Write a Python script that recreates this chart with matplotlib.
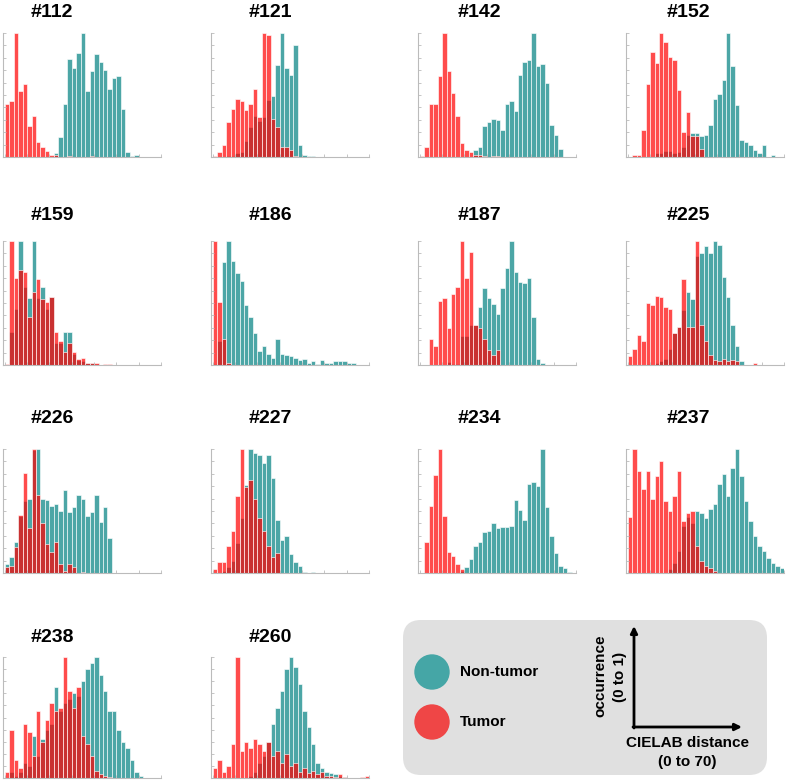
import numpy as np
import matplotlib
matplotlib.use('Agg')
import matplotlib.pyplot as plt
from matplotlib.patches import FancyBboxPatch, Circle

plt.rcParams['font.family'] = ['Liberation Sans', 'DejaVu Sans']

# histogram bins: CIELAB distance 0..70, width 2 -> 35 bins, normalised to max = 1
bin_edges = np.arange(0, 72, 2)

panel_ids = ['#112', '#121', '#142', '#152', '#159', '#186', '#187', '#225',
             '#226', '#227', '#234', '#237', '#238', '#260']

teal_112 = [0, 0, 0, 0, 0, 0, 0, 0, 0, 0, 0, 0.035, 0.16, 0.43, 0.79, 0.72, 0.84, 1.0, 0.53, 0.69,
            0.83, 0.77, 0.70, 0.55, 0.64, 0.65, 0.39, 0.04, 0.01, 0.02, 0, 0, 0, 0, 0]
red_112 = [0.43, 0.45, 1.0, 0.53, 0.59, 0.25, 0.33, 0.12, 0.08, 0.05, 0.02, 0.015, 0, 0, 0.005, 0, 0, 0,
           0, 0.005, 0, 0, 0, 0, 0, 0, 0, 0, 0, 0, 0, 0, 0, 0, 0]

teal_121 = [0, 0, 0, 0.01, 0.01, 0.035, 0.04, 0.13, 0.24, 0.33, 0.29, 0.32, 0.46, 0.49, 0.74, 1.0, 0.72,
            0.66, 0.90, 0.10, 0.015, 0.01, 0.005, 0, 0, 0, 0, 0, 0, 0, 0, 0, 0, 0, 0]
red_121 = [0.01, 0.04, 0.10, 0.28, 0.39, 0.47, 0.45, 0.38, 0.43, 0.55, 0.32, 1.0, 0.98, 0.31, 0.24, 0.08,
           0.08, 0.06, 0.01, 0, 0, 0, 0, 0, 0, 0, 0, 0, 0, 0, 0, 0, 0, 0, 0]

teal_142 = [0, 0, 0, 0, 0, 0, 0, 0, 0, 0, 0, 0, 0.06, 0.08, 0.25, 0.28, 0.31, 0.30, 0.22, 0.43, 0.45,
            0.37, 0.66, 0.77, 0.78, 1.0, 0.73, 0.75, 0.60, 0.26, 0.18, 0.065, 0.003, 0, 0]
red_142 = [0.005, 0.08, 0.43, 0.43, 0.65, 1.0, 0.69, 0.52, 0.33, 0.11, 0.06, 0.04, 0.015, 0.02, 0.01, 0,
           0.005, 0.005, 0, 0, 0, 0, 0, 0, 0, 0, 0, 0, 0, 0, 0, 0, 0, 0, 0]

teal_152 = [0, 0, 0, 0, 0, 0.003, 0.03, 0.035, 0.045, 0.045, 0.035, 0.04, 0.08, 0.18, 0.19, 0.19, 0.17,
            0.18, 0.26, 0.47, 0.51, 0.62, 1.0, 0.73, 0.42, 0.14, 0.12, 0.10, 0.06, 0.03, 0.10, 0, 0.013,
            0.003, 0]
red_152 = [0, 0.02, 0.02, 0.22, 0.59, 0.85, 0.76, 1.0, 0.93, 0.81, 0.78, 0.54, 0.20, 0.36, 0.17, 0.17,
           0.065, 0, 0, 0, 0, 0, 0, 0, 0, 0, 0, 0, 0, 0, 0, 0, 0, 0, 0]

teal_159 = [0, 0.27, 0.45, 1.0, 0.63, 0.54, 1.0, 0.54, 0.63, 0.45, 0.545, 0.18, 0.18, 0.27, 0.27, 0.09,
            0.04, 0.03, 0.02, 0.015, 0.008, 0, 0, 0, 0, 0, 0, 0, 0, 0, 0, 0, 0, 0, 0]
red_159 = [0.005, 1.0, 0.70, 0.77, 0.75, 0.39, 0.59, 0.69, 0.53, 0.51, 0.55, 0.27, 0.19, 0.105, 0.18,
           0.105, 0.05, 0.06, 0.02, 0.02, 0.015, 0.003, 0.005, 0.01, 0, 0, 0, 0, 0, 0, 0, 0, 0, 0, 0]

teal_186 = [0.005, 0.19, 0.83, 1.0, 0.84, 0.74, 0.68, 0.48, 0.39, 0.26, 0.11, 0.15, 0.09, 0.06, 0.21,
            0.09, 0.08, 0.07, 0.06, 0.04, 0.045, 0.02, 0.035, 0.01, 0.04, 0.02, 0.02, 0.03, 0.03, 0.03,
            0.013, 0.016, 0.003, 0, 0]
red_186 = [1.0, 0.51, 0.21, 0.02, 0, 0, 0, 0, 0, 0, 0, 0, 0, 0, 0, 0, 0, 0, 0, 0, 0, 0, 0, 0, 0, 0, 0,
           0, 0, 0, 0, 0, 0, 0, 0]

teal_187 = [0, 0, 0, 0, 0, 0, 0.025, 0.01, 0.01, 0.23, 0.23, 0.32, 0.32, 0.47, 0.62, 0.54, 0.49, 0.41,
            0.62, 0.78, 1.0, 0.75, 0.67, 0.66, 0.70, 0.39, 0.05, 0.015, 0, 0, 0, 0, 0, 0, 0]
red_187 = [0, 0, 0.21, 0.15, 0.52, 0.54, 0.30, 0.57, 0.63, 1.0, 0.70, 0.91, 0.32, 0.30, 0.21, 0.12, 0.08,
           0.12, 0, 0, 0, 0, 0, 0, 0, 0, 0, 0, 0, 0, 0, 0, 0, 0, 0]

teal_225 = [0, 0, 0, 0, 0.01, 0, 0.02, 0.03, 0.05, 0.13, 0.26, 0.31, 0.44, 0.59, 0.53, 0.88, 0.90, 0.96,
            0.90, 1.0, 0.97, 0.71, 0.55, 0.32, 0.15, 0.03, 0, 0, 0, 0, 0, 0, 0, 0, 0]
red_225 = [0.07, 0.13, 0.24, 0.19, 0.50, 0.48, 0.56, 0.55, 0.47, 0.45, 0.26, 0.31, 0.69, 0.31, 0.31, 1.0,
           0.32, 0.19, 0.08, 0.04, 0.03, 0.045, 0.03, 0.04, 0.03, 0, 0, 0, 0.015, 0, 0, 0, 0, 0, 0]

teal_226 = [0.075, 0.13, 0.25, 0.46, 0.58, 0.60, 0.99, 1.0, 0.60, 0.59, 0.54, 0.56, 0.50, 0.67, 0.49,
            0.53, 0.63, 0.60, 0.46, 0.49, 0.63, 0.41, 0.53, 0.28, 0, 0, 0, 0, 0, 0, 0, 0, 0, 0, 0]
red_226 = [0.045, 0.06, 0.21, 0.47, 0.81, 0.36, 1.0, 0.63, 0.40, 0.23, 0.17, 0.25, 0.07, 0.02, 0.07,
           0.045, 0, 0.01, 0, 0, 0, 0, 0, 0, 0, 0, 0, 0, 0, 0, 0, 0, 0, 0, 0]

teal_227 = [0, 0, 0.02, 0.05, 0.10, 0.24, 0.44, 0.71, 1.0, 0.97, 0.95, 0.89, 0.95, 0.77, 0.43, 0.27,
            0.30, 0.15, 0.09, 0.06, 0.01, 0, 0.008, 0, 0, 0, 0, 0, 0, 0, 0, 0, 0, 0, 0]
red_227 = [0.03, 0.09, 0.09, 0.22, 0.34, 0.62, 1.0, 0.69, 0.75, 0.60, 0.44, 0.34, 0.22, 0.13, 0.16, 0,
           0, 0, 0, 0, 0, 0, 0, 0, 0, 0, 0, 0, 0, 0, 0, 0, 0, 0, 0]

teal_234 = [0, 0, 0, 0, 0, 0, 0, 0, 0, 0.02, 0.045, 0.11, 0.22, 0.25, 0.33, 0.34, 0.40, 0.36, 0.37, 0.37,
            0.38, 0.59, 0.51, 0.43, 0.72, 0.73, 0.70, 1.0, 0.53, 0.30, 0.16, 0.055, 0.04, 0.005, 0]
red_234 = [0, 0.25, 0.54, 0.79, 1.0, 0.46, 0.17, 0.14, 0.07, 0.03, 0, 0, 0, 0, 0, 0, 0, 0, 0, 0, 0, 0,
           0, 0, 0, 0, 0, 0, 0, 0, 0, 0, 0, 0, 0]

teal_237 = [0, 0, 0, 0, 0, 0, 0, 0, 0, 0.03, 0.08, 0.18, 0.38, 0.45, 0.40, 0.50, 0.48, 0.44, 0.52, 0.56,
            0.72, 0.80, 0.62, 0.85, 1.0, 0.78, 0.58, 0.42, 0.30, 0.22, 0.18, 0.12, 0.08, 0.06, 0.04]
red_237 = [0.45, 1.0, 0.82, 0.68, 0.82, 0.60, 0.78, 0.90, 0.58, 0.50, 0.62, 0.82, 0.42, 0.48, 0.50, 0.22,
           0.10, 0.06, 0.04, 0.02, 0, 0, 0, 0, 0, 0, 0, 0, 0, 0, 0, 0, 0, 0, 0]

teal_238 = [0, 0.05, 0.02, 0.05, 0.12, 0.10, 0.35, 0.18, 0.32, 0.40, 0.45, 0.75, 0.55, 0.62, 0.65, 0.70,
            0.68, 0.80, 0.90, 0.95, 1.0, 0.85, 0.72, 0.55, 0.55, 0.40, 0.30, 0.25, 0.15, 0.05, 0.02, 0,
            0, 0, 0]
red_238 = [0.05, 0.40, 0.15, 0.08, 0.45, 0.38, 0.18, 0.55, 0.30, 0.48, 0.62, 0.55, 0.58, 1.0, 0.72, 0.58,
           0.75, 0.35, 0.28, 0.18, 0.06, 0.03, 0.02, 0.01, 0, 0, 0, 0, 0, 0, 0, 0, 0, 0, 0]

teal_260 = [0, 0, 0, 0, 0, 0, 0, 0, 0.02, 0.05, 0.12, 0.18, 0.30, 0.45, 0.58, 0.72, 0.90, 1.0, 0.92, 0.78,
            0.55, 0.42, 0.28, 0.12, 0.08, 0.05, 0.04, 0.03, 0.02, 0.01, 0, 0, 0, 0, 0]
red_260 = [0.08, 0.15, 0.05, 0.10, 0.28, 1.0, 0.22, 0.30, 0.25, 0.32, 0.28, 0.22, 0.30, 0.18, 0.22, 0.12,
           0.20, 0.10, 0.12, 0.05, 0.08, 0.04, 0.06, 0.03, 0.05, 0.02, 0.02, 0.01, 0.03, 0.01, 0, 0, 0,
           0.01, 0.02]

teal_all = [teal_112, teal_121, teal_142, teal_152, teal_159, teal_186, teal_187, teal_225,
            teal_226, teal_227, teal_234, teal_237, teal_238, teal_260]
red_all = [red_112, red_121, red_142, red_152, red_159, red_186, red_187, red_225,
           red_226, red_227, red_234, red_237, red_238, red_260]

W, H = 787, 784
fig = plt.figure(figsize=(W / 100, H / 100), dpi=100)

col_left = [3, 211, 418, 626]
ax_w = 158
row_top = [33, 241, 449, 657]
row_base = [157, 365, 573, 778]
title_x = [52, 270, 479, 688]
title_y = [12, 215, 418, 637]

centers = bin_edges[:-1] + 1
spine_col = '#bbbbbb'

for i, name in enumerate(panel_ids):
    r, c = divmod(i, 4)
    ax = fig.add_axes([col_left[c] / W, 1 - row_base[r] / H, ax_w / W, (row_base[r] - row_top[r]) / H])
    ax.bar(centers, teal_all[i], width=2, color='teal', alpha=0.7, edgecolor='white', linewidth=0.6)
    ax.bar(centers, red_all[i], width=2, color='red', alpha=0.7, edgecolor='white', linewidth=0.6)
    ax.set_xlim(-0.8, 70)
    ax.set_ylim(0, 1)
    ax.spines['top'].set_visible(False)
    ax.spines['right'].set_visible(False)
    for s in ['left', 'bottom']:
        ax.spines[s].set_color(spine_col)
        ax.spines[s].set_linewidth(0.8)
    ax.set_xticks(np.arange(0, 71, 10))
    ax.set_yticks(np.arange(0, 1.01, 0.1))
    ax.tick_params(direction='in', length=2, width=0.6, color=spine_col,
                   labelbottom=False, labelleft=False)

# overlay in pixel coordinates for titles and the legend box
ov = fig.add_axes([0, 0, 1, 1])
ov.set_xlim(0, W)
ov.set_ylim(H, 0)
ov.axis('off')
ov.patch.set_alpha(0)

for i, name in enumerate(panel_ids):
    r, c = divmod(i, 4)
    ov.text(title_x[c], title_y[r], name, ha='center', va='center', fontsize=14, fontweight='bold')

ov.add_patch(FancyBboxPatch((403, 620), 364, 155, boxstyle='round,pad=0,rounding_size=18',
                            fc='#e0e0e0', ec='none'))
ov.add_patch(Circle((432, 672), 17, color='#45a6a6'))
ov.add_patch(Circle((432, 722), 17, color='#ef4646'))
ov.text(460, 672, 'Non-tumor', ha='left', va='center', fontsize=11, fontweight='bold')
ov.text(460, 722, 'Tumor', ha='left', va='center', fontsize=11, fontweight='bold')

arrow = dict(arrowstyle='-|>', lw=2, color='black', mutation_scale=10, shrinkA=0, shrinkB=0)
ov.annotate('', xy=(634, 626), xytext=(634, 728), arrowprops=arrow)
ov.annotate('', xy=(742, 727), xytext=(633, 727), arrowprops=arrow)
ov.text(600, 676, 'occurrence', rotation=90, ha='center', va='center', fontsize=11, fontweight='bold')
ov.text(620, 677, '(0 to 1)', rotation=90, ha='center', va='center', fontsize=11, fontweight='bold')
ov.text(687, 743, 'CIELAB distance', ha='center', va='center', fontsize=11, fontweight='bold')
ov.text(687, 762, '(0 to 70)', ha='center', va='center', fontsize=11, fontweight='bold')

fig.savefig('out.png', dpi=100)
